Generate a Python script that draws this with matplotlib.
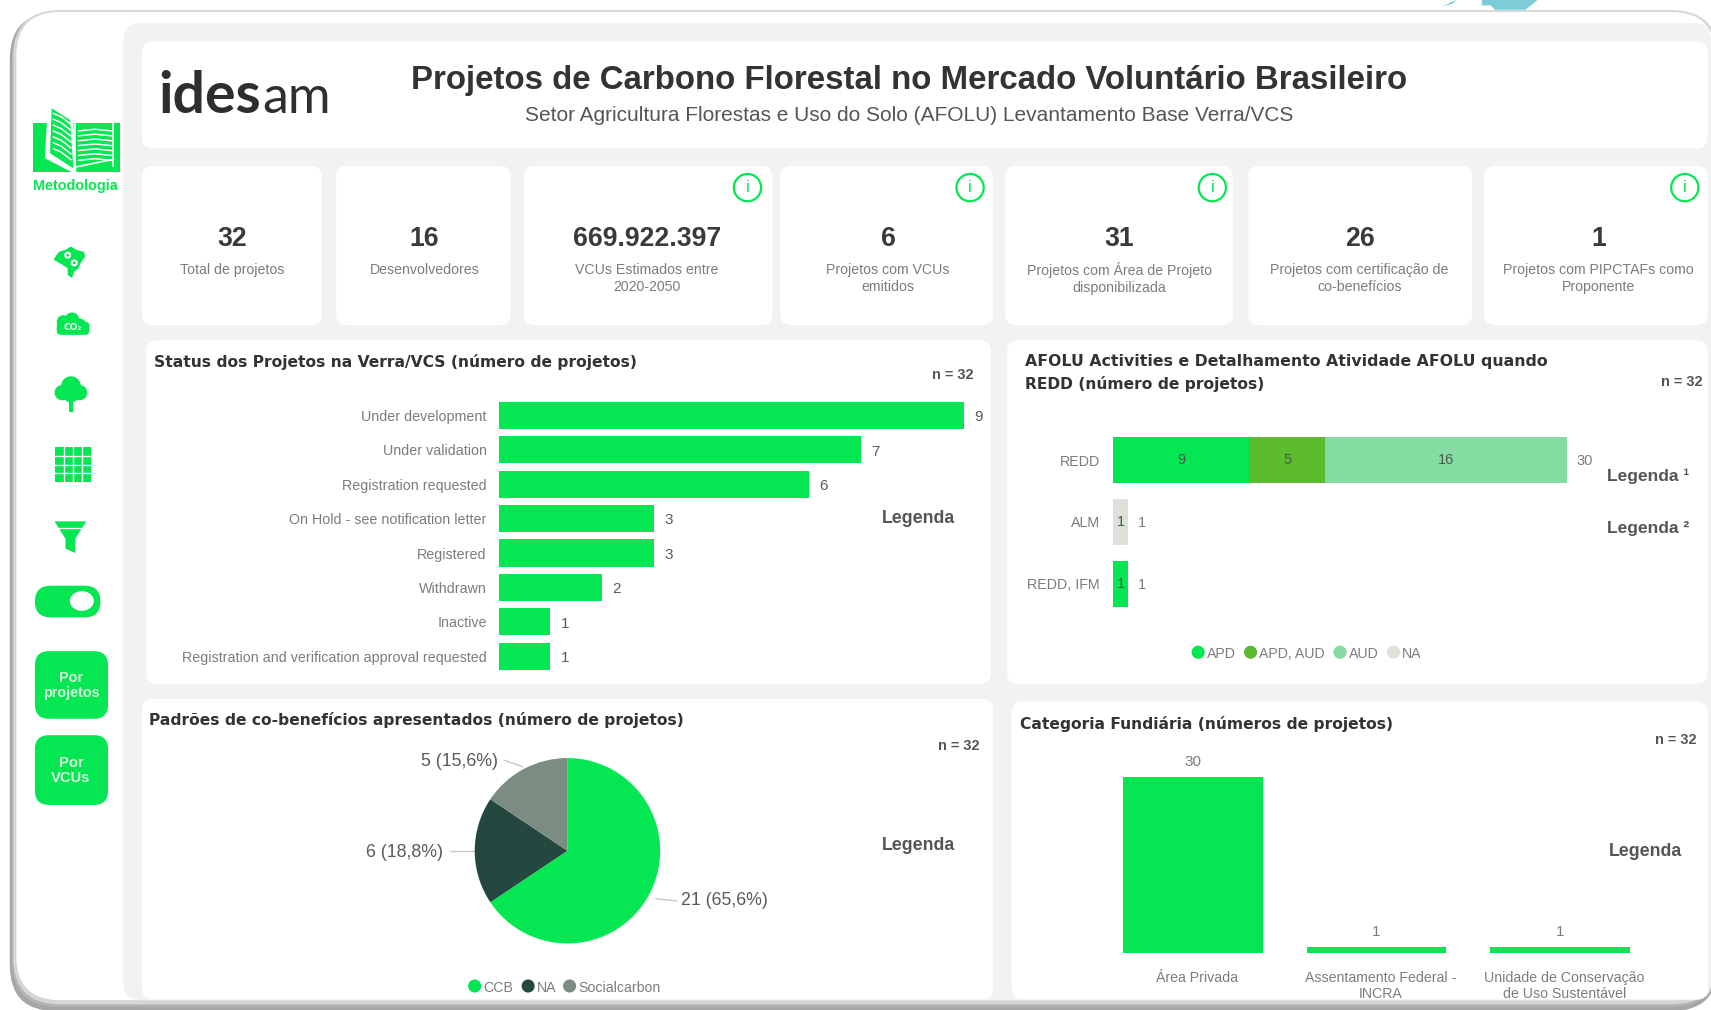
import matplotlib
matplotlib.use("Agg")
import matplotlib.pyplot as plt
from matplotlib.patches import FancyBboxPatch, Circle, Polygon, Rectangle, Ellipse
from matplotlib.transforms import ScaledTranslation

# ---- data ----
status_labels = ["Under development", "Under validation", "Registration requested",
                 "On Hold - see notification letter", "Registered", "Withdrawn", "Inactive",
                 "Registration and verification approval requested"]
status_values = [9, 7, 6, 3, 3, 2, 1, 1]

afolu_cats = ["REDD", "ALM", "REDD, IFM"]
afolu_apd = [9, 0, 1]
afolu_apd_aud = [5, 0, 0]
afolu_aud = [16, 0, 0]
afolu_na = [0, 1, 0]
afolu_totals = [30, 1, 1]
afolu_legend = ["APD", "APD, AUD", "AUD", "NA"]

pie_labels = ["CCB", "NA", "Socialcarbon"]
pie_values = [21, 6, 5]

fund_cats = ["Área Privada", "Assentamento Federal -\nINCRA", "Unidade de Conservação\nde Uso Sustentável"]
fund_values = [30, 1, 1]

kpi_values = ["32", "16", "669.922.397", "6", "31", "26", "1"]
kpi_labels = ["Total de projetos", "Desenvolvedores", "VCUs Estimados entre\n2020-2050",
              "Projetos com VCUs\nemitidos", "Projetos com Área de Projeto\ndisponibilizada",
              "Projetos com certificação de\nco-benefícios", "Projetos com PIPCTAFs como\nProponente"]

# ---- styles ----
GREEN = "#05E653"
C_APD_AUD = "#5DBB2F"
C_AUD = "#84DCA2"
C_NA = "#DCE2DA"
DARK = "#24483F"
SOC = "#7B8C81"
LBL = "#7C7C7C"
VAL = "#5A5A5A"
SANS = "Liberation Sans"

W, H = 1568, 926
fig = plt.figure(figsize=(17.11, 10.10), dpi=100, facecolor="white")
S = 1711 / W
bg = fig.add_axes([0, 0, 1, 1], zorder=0)
bg.set_xlim(0, W)
bg.set_ylim(H, 0)
bg.axis("off")
rend = fig.canvas.get_renderer()


def T(s, x, y, w=None, fs=10, color=VAL, ha="center", va="center", weight="normal", family=SANS, **kw):
    t = bg.text(x, y + 1.5, s, fontsize=fs, color=color, ha=ha, va=va, weight=weight, family=family, zorder=8, **kw)
    if w is not None:
        t.set_fontsize(fs * w * S / t.get_window_extent(rend).width)
    return t


def box(x0, y0, x1, y1, r=10, fc="white", ec="none", lw=0, z=2):
    p = FancyBboxPatch((x0 + r, y0 + r), x1 - x0 - 2 * r, y1 - y0 - 2 * r,
                       boxstyle=f"round,pad={r},rounding_size={r}", fc=fc, ec=ec, lw=lw, zorder=z)
    bg.add_patch(p)
    return p


def axpx(x0, y0, x1, y1):
    a = fig.add_axes([x0 / W, 1 - y1 / H, (x1 - x0) / W, (y1 - y0) / H], zorder=5)
    a.patch.set_alpha(0)
    for s in a.spines.values():
        s.set_visible(False)
    return a


# frame, with its shadow on the left and at the bottom
box(9, 12, 1574, 927, r=42, fc="#A6A6A6", z=0.3)
box(11, 11, 1574, 923, r=42, fc="#B4B4B4", z=0.4)
box(13, 10, 1574, 920, r=42, fc="#D4D4D4", ec="#D8D8D8", lw=1.2, z=0.5)
box(15, 11, 1572, 917, r=40, fc="white", z=0.6)
box(113, 21, 1568, 917, r=16, fc="#F2F2F2", z=1)
bg.add_patch(Polygon([(1322, 6), (1335, 0), (1331, 3)], fc="#12B5C9", zorder=1))
bg.add_patch(Polygon([(1358, 0), (1409, 0), (1398, 9), (1370, 9), (1366, 5), (1358, 5)], fc="#7CCDD6", zorder=1))

# panels
for x0, y0, x1, y1 in [(130, 38, 1565, 136),
                       (130, 152, 295, 298), (308, 152, 468, 298), (480, 152, 708, 298),
                       (715, 152, 910, 298), (921, 152, 1130, 298), (1144, 152, 1349, 298),
                       (1360, 152, 1565, 298),
                       (134, 312, 908, 627), (923, 312, 1565, 627),
                       (130, 641, 910, 916), (927, 643, 1565, 916)]:
    box(x0, y0, x1, y1)

# header
T("ides", 145, 87, w=94, fs=30, color="#2E2E2E", ha="left", weight="bold", family="Lato")
T("am", 240, 89, w=63, fs=30, color="#2E2E2E", ha="left", weight="normal", family="Lato")
T("Projetos de Carbono Florestal no Mercado Voluntário Brasileiro", 833, 72, w=912, fs=22,
  color="#333333", weight="bold")
T("Setor Agricultura Florestas e Uso do Solo (AFOLU) Levantamento Base Verra/VCS", 833, 104, w=705, fs=12,
  color="#555555")

# KPI cards
kpi_x = [213, 389, 593, 814, 1026, 1246, 1465]
for i, (v, l, x) in enumerate(zip(kpi_values, kpi_labels, kpi_x)):
    T(v, x, 218, fs=19.2, color="#3A3A3A", weight="bold")
    T(l, x, 254 if "\n" in l else 246, fs=10.2, color=LBL, linespacing=1.25)
for x in [685, 889, 1111, 1544]:
    bg.add_patch(Circle((x, 172), 12.5, fc="white", ec=GREEN, lw=1.6, zorder=8))
    T("i", x, 170.5, fs=12, color=GREEN)

# panel titles
TF = "DejaVu Sans"
T("Status dos Projetos na Verra/VCS (número de projetos)", 141, 330, w=445, fs=10, color="#333333", ha="left", weight="bold", family=TF)
T("AFOLU Activities e Detalhamento Atividade AFOLU quando", 939, 330, w=478, fs=10, color="#333333", ha="left", weight="bold", family=TF)
T("REDD (número de projetos)", 939, 351, w=220, fs=10, color="#333333", ha="left", weight="bold", family=TF)
T("Padrões de co-benefícios apresentados (número de projetos)", 137, 659, w=493, fs=10, color="#333333", ha="left", weight="bold", family=TF)
T("Categoria Fundiária (números de projetos)", 935, 662, w=343, fs=10, color="#333333", ha="left", weight="bold", family=TF)
for x, y in [(873, 342), (1541, 349), (879, 682), (1536, 677)]:
    T("n = 32", x, y, w=38, fs=9, color="#555555", weight="bold")
for x, y in [(842, 474), (842, 774), (1508, 779)]:
    T("Legenda", x, y, w=67, fs=11, color="#555555", weight="bold")
T("Legenda ¹", 1510, 435, w=75, fs=11, color="#555555", weight="bold")
T("Legenda ²", 1510, 483, w=75, fs=11, color="#555555", weight="bold")

# ---- status bars ----
ax = axpx(457, 365, 905, 617.5)
bars = ax.barh(status_labels, status_values, height=0.79, color=GREEN)
ax.set_xlim(0, 448 / 47.4)
ax.set_ylim(7.5, -0.5)
ax.xaxis.set_visible(False)
ax.tick_params(axis="y", length=0, pad=8.6, labelsize=10.25, labelcolor=LBL)
for l in ax.get_yticklabels():
    l.set_family(SANS)
for t in ax.bar_label(bars, padding=7.5, fontsize=11, color=VAL, family=SANS):
    t.xyann = (t.xyann[0], -1.3)

# ---- AFOLU stacked ----
ax = axpx(1020, 393.5, 1500, 563.5)
left = [0, 0, 0]
for vals, col in [(afolu_apd, GREEN), (afolu_apd_aud, C_APD_AUD), (afolu_aud, C_AUD), (afolu_na, C_NA)]:
    b = ax.barh(afolu_cats, vals, left=left, height=0.75, color=col)
    ax.bar_label(b, labels=[str(v) if v else "" for v in vals], label_type="center",
                 fontsize=10.5, color="#4A5A4A", family=SANS)
    left = [a + c for a, c in zip(left, vals)]
ax.set_xlim(0, 480 / 13.87)
ax.set_ylim(2.5, -0.5)
ax.xaxis.set_visible(False)
ax.tick_params(axis="y", length=0, pad=9.4, labelsize=10.3, labelcolor=LBL)
for l in ax.get_yticklabels():
    l.set_family(SANS)
for i, t in enumerate(afolu_totals):
    ax.annotate(str(t), (left[i], i), xytext=(7, -1), textcoords="offset points", va="center",
                fontsize=10.5, color=LBL, family=SANS)
for x, name, col in zip([1098, 1146, 1228, 1277], afolu_legend, [GREEN, C_APD_AUD, C_AUD, C_NA]):
    bg.add_patch(Ellipse((x, 598), 12, 12, fc=col, zorder=8))
    T(name, x + 8, 598, fs=10.2, color=LBL, ha="left")

# ---- pie ----
ax = axpx(435, 695, 605, 865)
ax.pie(pie_values, colors=[GREEN, DARK, SOC], startangle=90, counterclock=False, radius=1)
ax.set_xlim(-1, 1)
ax.set_ylim(-1, 1)
total = sum(pie_values)
pie_text = [f"{v} ({v / total * 100:.1f}%)".replace(".", ",") for v in pie_values]
T(pie_text[0], 624, 824, fs=12.8, color=VAL, ha="left")
T(pie_text[1], 406, 780, fs=12.8, color=VAL, ha="right")
T(pie_text[2], 456, 697, fs=12.8, color=VAL, ha="right")
bg.plot([601, 620], [824, 826], color="#C8C8C8", lw=1, zorder=4)
bg.plot([412, 436], [780, 780], color="#C8C8C8", lw=1, zorder=4)
bg.plot([462, 479], [697, 703], color="#C8C8C8", lw=1, zorder=4)
for x, name, col in zip([435, 484, 522], pie_labels, [GREEN, DARK, SOC]):
    bg.add_patch(Ellipse((x, 904), 12, 12, fc=col, zorder=8))
    T(name, x + 8, 904, fs=10.2, color=LBL, ha="left")

# ---- fundiaria ----
ax = axpx(1009, 690, 1514, 873.5)
b = ax.bar(range(3), fund_values, width=0.76, color=GREEN)
ax.set_xlim(-0.5, 2.5)
ax.set_ylim(0, 183.5 / 5.37)
ax.yaxis.set_visible(False)
ax.set_xticks(range(3), fund_cats)
ax.tick_params(axis="x", length=0, pad=13, labelsize=10.2, labelcolor=LBL)
off = ScaledTranslation(3 / 72, 0, fig.dpi_scale_trans)
for l in ax.get_xticklabels():
    l.set_family(SANS)
    l.set_linespacing(1.2)
    l.set_transform(l.get_transform() + off)
ax.bar_label(b, padding=6, fontsize=11, color=LBL, family=SANS)

# ---- sidebar icons ----
# book
bg.add_patch(Polygon([(30, 113), (110, 113), (110, 158), (30, 158)], fc=GREEN, zorder=3))
bg.add_patch(Polygon([(44, 96), (67, 108), (70, 158), (66, 158), (41, 145)], fc="white", zorder=3.1))
bg.add_patch(Polygon([(47.4, 99.3), (64.2, 110), (67.2, 154.3), (45.9, 140.5)], fc=GREEN, zorder=3.2))
bg.plot([68.5, 68.5], [113, 157], color="white", lw=1.2, zorder=3.3)
bg.plot([104, 104], [113, 152], color="white", lw=1.2, zorder=3.3)
bg.plot([70, 104], [153, 146], color="white", lw=1.2, zorder=3.3)
for i in range(7):
    bg.plot([49, 56, 65], [104 + i * 5.4, 107 + i * 5.4, 114 + i * 5.4], color="white", lw=1.1, zorder=3.4)
    bg.plot([72, 87, 102], [120 + i * 4.5, 118.5 + i * 4.5, 120 + i * 4.5], color="white", lw=1.1, zorder=3.4)
T("Metodologia", 69, 169, w=78, fs=9, color=GREEN, weight="bold")
# brazil
bg.add_patch(Polygon([(49, 238), (54, 231), (60, 229), (65, 226), (70, 229), (77, 231), (78, 235), (74, 241), (72, 246),
                      (68, 249), (66, 255), (62, 252), (62, 246), (56, 242)], fc=GREEN, zorder=3))
for x, y in [(62, 234), (68, 241)]:
    bg.add_patch(Circle((x, y), 3.2, fc="white", zorder=4))
    bg.add_patch(Circle((x, y), 1.3, fc=GREEN, zorder=4.1))
# CO2 cloud
for x, y, r in [(58, 295, 6), (66, 293, 6.5), (73, 298, 6)]:
    bg.add_patch(Circle((x, y), r, fc=GREEN, zorder=3))
box(52, 295, 82, 307, r=4, fc=GREEN, z=3)
T("CO₂", 67, 299, fs=6.5, color="white", family="DejaVu Sans", weight="bold")
# tree
for x, y, r in [(65, 354, 9), (57, 360, 7), (73, 360, 7), (65, 362, 7)]:
    bg.add_patch(Circle((x, y), r, fc=GREEN, zorder=3))
bg.add_patch(Rectangle((63, 362), 4, 16, fc=GREEN, zorder=3))
# grid
bg.add_patch(Rectangle((50, 410), 33, 32, fc=GREEN, zorder=3))
for i in range(1, 4):
    bg.plot([50, 83], [410 + i * 8, 410 + i * 8], color="white", lw=1, zorder=4)
    bg.plot([50 + i * 8.25, 50 + i * 8.25], [410, 442], color="white", lw=1, zorder=4)
# funnel
bg.add_patch(Polygon([(50, 478), (79, 478), (69, 494), (69, 507), (60, 503), (60, 494)], fc=GREEN, zorder=3))
bg.plot([54, 75], [484, 484], color="white", lw=1, zorder=4)
# toggle and buttons
box(32, 537, 92, 566, r=14.5, fc=GREEN, z=3)
bg.add_patch(Ellipse((75, 551), 22, 18, fc="white", zorder=4))
box(32, 597, 99, 659, r=13, fc=GREEN, z=3)
box(32, 674, 99, 738, r=13, fc=GREEN, z=3)
T("Por\nprojetos", 65, 627, w=52, fs=9, color="#D8F5E0", weight="bold", linespacing=1.15)
T("Por\nVCUs", 65, 705, w=36, fs=9, color="#D8F5E0", weight="bold", linespacing=1.15)

fig.savefig("out.png", dpi=100, facecolor="white")
